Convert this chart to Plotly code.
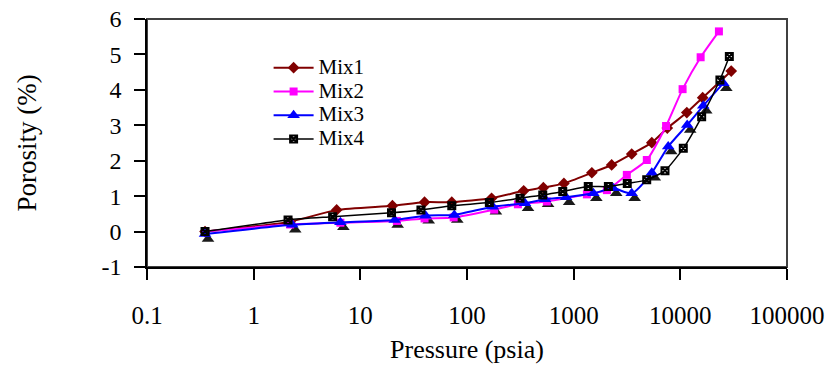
import plotly.graph_objects as go

# ---- data ----
mix1_x = [0.35, 2.2, 6.0, 20, 40, 72, 170, 340, 520, 810, 1480, 2270, 3500, 5400, 7550, 11500, 16200, 30000]
mix1_y = [0.0, 0.28, 0.61, 0.73, 0.83, 0.83, 0.94, 1.15, 1.24, 1.36, 1.66, 1.88, 2.19, 2.51, 2.92, 3.36, 3.78, 4.53]

mix2_x = [0.35, 2.2, 6.5, 22, 40, 75, 180, 300, 560, 1330, 2050, 3150, 4850, 7350, 10500, 15500, 23000]
mix2_y = [0.0, 0.2, 0.25, 0.3, 0.37, 0.4, 0.62, 0.77, 0.85, 1.05, 1.17, 1.6, 2.02, 2.98, 4.02, 4.92, 5.65]

mix3_x = [0.35, 2.3, 6.5, 21, 41, 76, 175, 350, 540, 850, 1530, 2350, 3500, 5400, 7700, 11600, 16400, 25300]
mix3_y = [-0.07, 0.19, 0.26, 0.33, 0.45, 0.47, 0.70, 0.80, 0.91, 0.97, 1.08, 1.22, 1.08, 1.66, 2.40, 3.01, 3.55, 4.19]

mix4_x = [0.35, 2.1, 5.5, 19.6, 37, 72, 162, 314, 513, 790, 1370, 2115, 3180, 4840, 7180, 10660, 15850, 23500, 28800]
mix4_y = [0.0, 0.33, 0.42, 0.53, 0.61, 0.73, 0.82, 0.94, 1.03, 1.13, 1.27, 1.27, 1.36, 1.46, 1.72, 2.35, 3.24, 4.28, 4.94]

series_names = ["Mix1", "Mix2", "Mix3", "Mix4"]

x_tickvals = [0.1, 1, 10, 100, 1000, 10000, 100000]
x_ticktext = ["0.1", "1", "10", "100", "1000", "10000", "100000"]
y_tickvals = [-1, 0, 1, 2, 3, 4, 5, 6]
y_ticktext = ["-1", "0", "1", "2", "3", "4", "5", "6"]

FONT = "Liberation Serif"
X_RANGE = [-1, 5]
Y_RANGE = [-1, 6]


def legend_label(name):
    return "<span style='font-size:21px'>" + name + "</span>"


fig = go.Figure()

# shadow of Mix3 triangles, on hidden base axes whose range is nudged
fig.add_trace(go.Scatter(
    x=mix3_x, y=mix3_y, mode="markers", showlegend=False, hoverinfo="skip",
    marker=dict(symbol="triangle-up", size=11, color="#1a1a1a"),
    xaxis="x", yaxis="y"))

common = dict(xaxis="x2", yaxis="y2", mode="lines+markers")
fig.add_trace(go.Scatter(
    x=mix1_x, y=mix1_y, name=legend_label(series_names[0]),
    line=dict(color="#800000", width=2, shape="spline", smoothing=0.6),
    marker=dict(symbol="diamond", size=9, color="#800000"), **common))
fig.add_trace(go.Scatter(
    x=mix2_x, y=mix2_y, name=legend_label(series_names[1]),
    line=dict(color="#FF00FF", width=2, shape="spline", smoothing=0.6),
    marker=dict(symbol="square", size=8, color="#FF00FF"), **common))
fig.add_trace(go.Scatter(
    x=mix3_x, y=mix3_y, name=legend_label(series_names[2]),
    line=dict(color="#0000FF", width=2, shape="spline", smoothing=0.6),
    marker=dict(symbol="triangle-up", size=11, color="#0000FF"), **common))
fig.add_trace(go.Scatter(
    x=mix4_x, y=mix4_y, name=legend_label(series_names[3]),
    line=dict(color="#000000", width=1.5, shape="spline", smoothing=0.6),
    marker=dict(symbol="square-x-open", size=7, color="#000000", line=dict(width=2, color="#000000")),
    **common))

dx = 3 / 106.67   # decades per pixel shift
dy = 5 / 35.43
fig.update_layout(
    width=839, height=370,
    margin=dict(l=139, r=60, t=11, b=111, autoexpand=False),
    paper_bgcolor="white", plot_bgcolor="white",
    font=dict(family=FONT, color="black"),
    showlegend=True,
    legend=dict(x=0.19, y=0.872, xanchor="left", yanchor="top",
                font=dict(family=FONT, size=16, color="black"),
                bgcolor="rgba(0,0,0,0)", tracegroupgap=0, itemwidth=40),
    xaxis=dict(type="log", range=[X_RANGE[0] - dx, X_RANGE[1] - dx], visible=False, showgrid=False, automargin=False),
    yaxis=dict(range=[Y_RANGE[0] + dy, Y_RANGE[1] + dy], visible=False, showgrid=False, automargin=False),
    xaxis2=dict(type="log", range=X_RANGE, overlaying="x", anchor="y2", automargin=False,
                tickvals=x_tickvals, ticktext=x_ticktext,
                showgrid=False, zeroline=False,
                showline=True, linecolor="black", linewidth=1.5,
                ticks="outside", ticklen=11, tickwidth=1.5, tickcolor="black",
                ticklabelstandoff=14, ticklabeloverflow="allow",
                tickfont=dict(family=FONT, size=25, color="black"),
                title=dict(text="Pressure (psia)", font=dict(family=FONT, size=26, color="black"), standoff=12)),
    yaxis2=dict(range=Y_RANGE, overlaying="y", anchor="x2", automargin=False,
                tickvals=y_tickvals, ticktext=y_ticktext,
                showgrid=False, zeroline=False,
                showline=True, linecolor="black", linewidth=1.5,
                ticks="outside", ticklen=11, tickwidth=1.5, tickcolor="black",
                ticklabelstandoff=8, ticklabeloverflow="allow",
                tickfont=dict(family=FONT, size=24, color="black"),
                title=dict(text="Porosity (%)", font=dict(family=FONT, size=27, color="black"), standoff=57)),
    shapes=[dict(type="rect", xref="paper", yref="paper", x0=0, y0=0, x1=1, y1=1,
                 line=dict(color="#404040", width=2), layer="below")],
)

fig.write_html("out.html")
